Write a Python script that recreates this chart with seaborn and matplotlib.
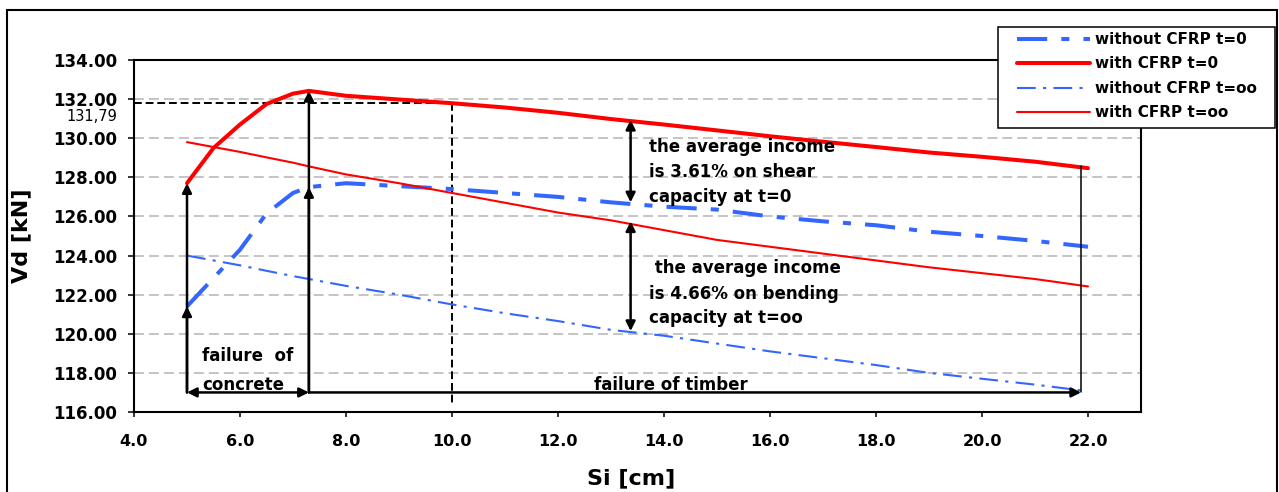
import matplotlib
matplotlib.use("Agg")
import matplotlib.pyplot as plt
import seaborn as sns
import pandas as pd
from matplotlib.patches import Rectangle

# ---------------- data ----------------
si_cm = [5.0, 5.5, 6.0, 6.5, 7.0, 7.3, 8.0, 9.0, 10.0, 11.0, 12.0, 13.0, 14.0,
         15.0, 16.0, 17.0, 18.0, 19.0, 20.0, 21.0, 22.0]
without_cfrp_t0 = [121.40, 122.85, 124.30, 126.15, 127.20, 127.50, 127.70, 127.55, 127.40,
                   127.20, 127.00, 126.72, 126.50, 126.35, 126.00, 125.75, 125.55, 125.22,
                   125.00, 124.75, 124.45]
with_cfrp_t0 = [127.70, 129.50, 130.70, 131.75, 132.28, 132.42, 132.17, 131.98, 131.79,
                131.57, 131.30, 130.98, 130.70, 130.40, 130.10, 129.82, 129.55, 129.27,
                129.05, 128.80, 128.47]
without_cfrp_too = [124.00, 123.75, 123.50, 123.22, 122.95, 122.80, 122.45, 122.00, 121.50,
                    121.05, 120.65, 120.20, 119.90, 119.50, 119.10, 118.75, 118.40, 118.00,
                    117.70, 117.40, 117.06]
with_cfrp_too = [129.80, 129.55, 129.30, 129.02, 128.75, 128.56, 128.15, 127.70, 127.20,
                 126.70, 126.20, 125.80, 125.30, 124.80, 124.45, 124.10, 123.75, 123.40,
                 123.10, 122.80, 122.42]
series_labels = ["without CFRP t=0", "with CFRP t=0", "without CFRP t=oo", "with CFRP t=oo"]
x_ticks = [4, 6, 8, 10, 12, 14, 16, 18, 20, 22]
y_ticks = [116, 118, 120, 122, 124, 126, 128, 130, 132, 134]
marked_value = 131.79
marked_si = 10.0

# ---------------- style ----------------
sns.set_theme(style="white")
plt.rcParams["font.family"] = ["DejaVu Sans"]
plt.rcParams["font.weight"] = "bold"
plt.rcParams["text.color"] = "black"
plt.rcParams["axes.labelcolor"] = "black"
plt.rcParams["xtick.color"] = "black"
plt.rcParams["ytick.color"] = "black"

BLUE = "#3366FF"
RED = "#FF0000"

fig = plt.figure(figsize=(12.79, 4.92), dpi=100)
W, H = 1279, 492
ax = fig.add_axes([134 / W, 1 - 412 / H, (1141 - 134) / W, (412 - 60) / H])

# outer frame
fig.patches.append(Rectangle((7 / W, -0.05), (1277 - 7) / W, (1 - 10 / H) + 0.05,
                             transform=fig.transFigure, fill=False, lw=1.5,
                             edgecolor="black", zorder=0))

styles = [
    dict(y=without_cfrp_t0, color=BLUE, lw=2.9, ls=(0, (7.5, 3.5, 2.0, 3.5))),
    dict(y=with_cfrp_t0, color=RED, lw=2.9, ls="-"),
    dict(y=without_cfrp_too, color=BLUE, lw=1.5, ls=(0, (9, 3.5, 1.5, 3.5))),
    dict(y=with_cfrp_too, color=RED, lw=1.5, ls="-"),
]
for st, lab in zip(styles, series_labels):
    sns.lineplot(x=si_cm, y=st["y"], ax=ax, color=st["color"], lw=st["lw"],
                 linestyle=st["ls"], label=lab, estimator=None, zorder=3)

if ax.get_legend() is not None:
    ax.get_legend().remove()

ax.set_xlim(4, 23)
ax.set_ylim(116, 134)
ax.set_xticks(x_ticks)
ax.set_xticklabels([f"{v:.1f}" for v in x_ticks])
ax.set_yticks(y_ticks)
ax.set_yticklabels([f"{v:.2f}" for v in y_ticks])
ax.tick_params(axis="y", direction="out", length=4.3, width=1.1, pad=8,
               labelsize=12, left=True, colors="black")
ax.tick_params(axis="x", direction="out", length=3.5, width=1.1, pad=12,
               labelsize=11.5, bottom=True, colors="black")
for lbl in ax.get_xticklabels() + ax.get_yticklabels():
    lbl.set_fontweight("bold")
for sp in ax.spines.values():
    sp.set_visible(True)
    sp.set_color("black")
    sp.set_linewidth(1.5)

ax.yaxis.grid(True, color="#b4b4b4", lw=1.1, ls=(0, (6.5, 3.3)))
ax.xaxis.grid(False)
ax.set_axisbelow(True)

ax.set_xlabel("Si [cm]", fontsize=16, fontweight="bold", color="black")
ax.set_ylabel("Vd [kN]", fontsize=16, fontweight="bold", color="black")
ax.xaxis.set_label_coords(0.494, -0.16)
ax.yaxis.set_label_coords(-0.102, 0.5)

# marked value lines
ax.plot([4, marked_si], [marked_value, marked_value], color="black", lw=1.4,
        ls=(0, (4, 2)), zorder=2)
ax.plot([marked_si, marked_si], [marked_value, 116.35], color="black", lw=1.4,
        ls=(0, (4, 2)), zorder=2)
ax.text(-0.017, 131.12, "131,79", transform=ax.get_yaxis_transform(), ha="right",
        va="center", fontsize=10.5, fontweight="normal", color="black", clip_on=False)

# arrows
def arrow(x0, y0, x1, y1, style="-|>", lw=1.8):
    ax.annotate("", xy=(x1, y1), xytext=(x0, y0),
                arrowprops=dict(arrowstyle=style, color="black", lw=lw,
                                mutation_scale=14, shrinkA=0, shrinkB=0), zorder=4)

base_y = 117.0
arrow(5.0, base_y, 5.0, with_cfrp_t0[0])
arrow(5.0, base_y, 5.0, without_cfrp_t0[0])
arrow(7.3, base_y, 7.3, 132.42)
arrow(7.3, base_y, 7.3, 127.50)
arrow(5.0, base_y, 7.3, base_y, style="<|-|>")
arrow(7.3, base_y, 21.87, base_y)
ax.plot([21.87, 21.87], [base_y, 128.6], color="black", lw=1.1, zorder=4)
arrow(13.37, 126.72, 13.37, 130.94, style="<|-|>")
arrow(13.37, 120.14, 13.37, 125.75, style="<|-|>")

# texts
def lines(x, ys, texts, ha="left"):
    for yy, t in zip(ys, texts):
        ax.text(x, yy, t, ha=ha, va="baseline", fontsize=12, fontweight="bold",
                color="black", zorder=5)

lines(13.72, [129.32, 128.01, 126.72],
      ["the average income", "is 3.61% on shear", "capacity at t=0"])
lines(13.72, [123.12, 121.79, 120.53],
      [" the average income", "is 4.66% on bending", "capacity at t=oo"])
lines(5.28, [118.61, 117.13], ["failure  of", "concrete"])
lines(14.13, [117.13], ["failure of timber"], ha="center")

# legend with separate frame
fig.patches.append(Rectangle((998 / W, 1 - 128 / H), (1275 - 998) / W, (128 - 27) / H,
                             transform=fig.transFigure, facecolor="white",
                             edgecolor="black", lw=1.1, zorder=10))
handles, labels = ax.get_legend_handles_labels()
leg = fig.legend(handles, labels, loc="upper left", bbox_to_anchor=(1017 / W, 1 - 32 / H),
                 frameon=False, borderpad=0, borderaxespad=0, handlelength=4.8,
                 handletextpad=0.3, labelspacing=0.62,
                 prop=dict(size=11, weight="bold"))
for t in leg.get_texts():
    t.set_color("black")
leg.set_zorder(11)

fig.savefig("out.png", dpi=100)
